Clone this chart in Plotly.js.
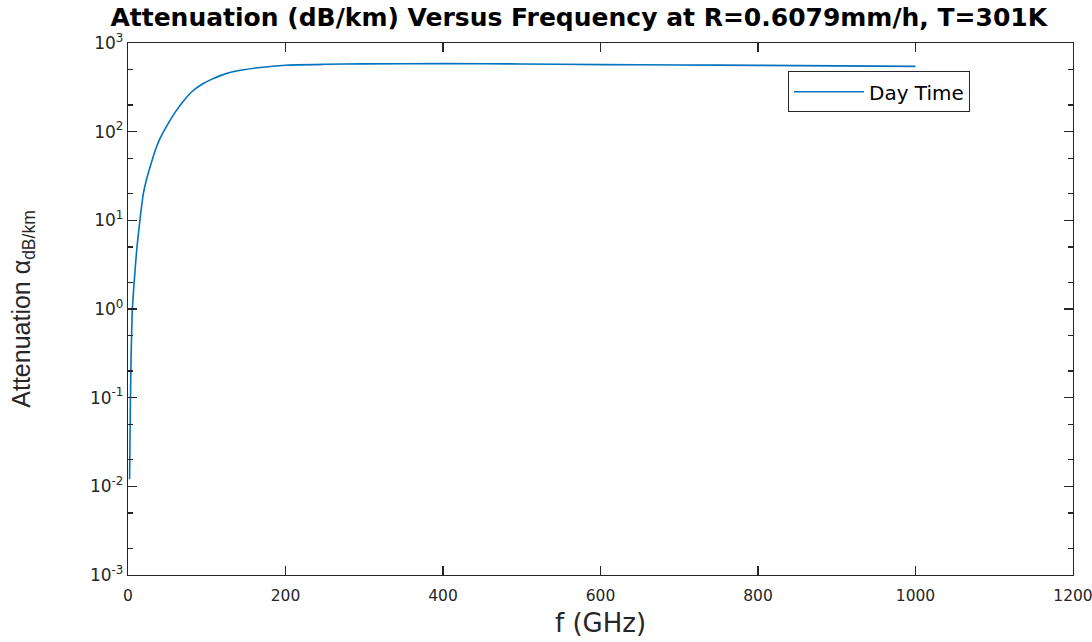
<!DOCTYPE html>
<html>
<head>
<meta charset="utf-8">
<script src="https://cdn.plot.ly/plotly-3.0.1.min.js"></script>
<style>html,body{margin:0;padding:0;background:#fff;}#chart{width:1092px;height:642px;}</style>
</head>
<body>
<div id="chart"></div>
<script>
const freqGHz = [2, 2.5, 3, 4, 5, 5.5, 8, 11, 15, 19.5, 24, 28, 35, 41, 47, 60, 70, 81, 95, 106, 120, 136, 165, 200, 250, 300, 400, 500, 600, 700, 800, 900, 1000];
const attenDay = [0.012, 0.032, 0.079, 0.32, 0.71, 1.0, 2.1, 4.6, 9.8, 20, 30, 40, 63, 85, 107, 166, 219, 282, 347, 389, 437, 479, 525, 562, 575, 582, 585, 580, 571, 565, 560, 552, 545];
const seriesName = 'Day Time';
const yTickVals = [1e-3, 1e-2, 1e-1, 1e0, 1e1, 1e2, 1e3];
const yTickText = ['10<sup>-3</sup>', '10<sup>-2</sup>', '10<sup>-1</sup>', '10<sup>0</sup>', '10<sup>1</sup>', '10<sup>2</sup>', '10<sup>3</sup>'];
const xTickVals = [0, 200, 400, 600, 800, 1000, 1200];

const axisColor = '#262626';
const wideFont = 'DejaVu Sans, sans-serif';
const narrowFont = 'Liberation Sans, Arial, sans-serif';

Plotly.newPlot('chart', [{
  x: freqGHz, y: attenDay, type: 'scatter', mode: 'lines', name: seriesName,
  line: {color: '#0072BD', width: 1.6, shape: 'spline', smoothing: 0.5}
}], {
  width: 1092, height: 642,
  margin: {l: 128, r: 19, t: 43, b: 67},
  paper_bgcolor: '#fff', plot_bgcolor: '#fff',
  title: {text: '<b>Attenuation (dB/km) Versus Frequency at R=0.6079mm/h, T=301K</b>', x: 0.53, xanchor: 'center', y: 0.973, yanchor: 'middle',
          font: {family: wideFont, size: 25, color: '#000'}},
  showlegend: true,
  legend: {x: 0.891, xanchor: 'right', y: 0.947, yanchor: 'top', bgcolor: '#fff', bordercolor: axisColor, borderwidth: 1,
           font: {family: wideFont, size: 20, color: '#000'}, itemwidth: 70, tracegroupgap: 0},
  xaxis: {range: [0, 1200], tickvals: xTickVals, ticks: 'inside', ticklen: 9, tickwidth: 1.5, tickcolor: axisColor,
          showline: true, linecolor: axisColor, linewidth: 1.2, mirror: 'allticks', showgrid: false, zeroline: false,
          ticklabeloverflow: 'allow', ticklabelstandoff: 6,
          tickfont: {family: wideFont, size: 15.5, color: axisColor},
          title: {text: 'f (GHz)', font: {family: wideFont, size: 26, color: axisColor}, standoff: 10}},
  yaxis: {type: 'log', range: [-3, 3], tickvals: yTickVals, ticktext: yTickText, ticks: 'inside', ticklen: 9, tickwidth: 1.5, tickcolor: axisColor,
          showline: true, linecolor: axisColor, linewidth: 1.2, mirror: 'allticks', showgrid: false, zeroline: false,
          minor: {ticks: 'inside', ticklen: 5, tickwidth: 1.2, tickcolor: axisColor, showgrid: false},
          tickfont: {family: wideFont, size: 17, color: axisColor},
          title: {text: 'Attenuation α<sub>dB/km</sub>', font: {family: narrowFont, size: 25, color: axisColor}, standoff: 52}}
}, {displayModeBar: false, staticPlot: true});
</script>
</body>
</html>
